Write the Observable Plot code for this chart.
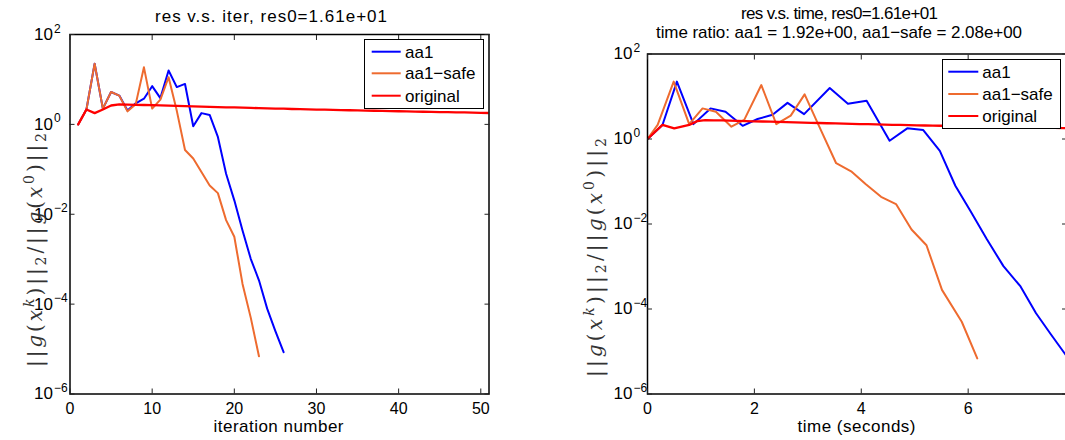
<!DOCTYPE html>
<html><head><meta charset="utf-8">
<script src="https://cdn.jsdelivr.net/npm/d3@7"></script>
<script src="https://cdn.jsdelivr.net/npm/@observablehq/plot@0.6"></script>
<style>
html,body{margin:0;padding:0;overflow:hidden;background:#fff;}
#wrap{position:relative;width:1065px;height:440px;overflow:hidden;}
#wrap > svg{position:absolute;top:0;}
</style></head><body><div id="wrap"></div>
<script>
// ---- data ----
const seriesNames = ["aa1", "aa1\u2212safe", "original"];
const seriesColors = ["#0000ff", "#ee6b2f", "#ff0000"];

const aa1Res = [1.00, 2.14, 22.4, 2.24, 5.25, 4.37, 2.04, 2.95, 3.72, 7.08, 3.85, 15.8, 6.76, 7.94, 0.91, 1.78, 1.62, 0.525, 0.0794, 0.0204, 0.00437, 0.00102, 3.39e-4, 7.94e-5, 2.51e-5, 8.5e-6];
const aa1Time = [0, 0.28, 0.55, 0.86, 1.18, 1.46, 1.78, 2.06, 2.34, 2.62, 2.93, 3.41, 3.75, 4.10, 4.53, 4.86, 5.16, 5.47, 5.76, 6.04, 6.35, 6.66, 6.98, 7.27, 7.55, 7.82];

const safeRes = [1.00, 2.14, 22.4, 2.24, 5.25, 4.37, 1.95, 2.82, 18.6, 2.24, 3.55, 11.2, 2.0, 0.269, 0.174, 0.0871, 0.0437, 0.0295, 0.00741, 0.00316, 2.82e-4, 5.01e-5, 6.9e-6];
const safeTime = [0, 0.19, 0.49, 0.78, 1.03, 1.28, 1.57, 1.81, 2.13, 2.41, 2.68, 2.94, 3.21, 3.53, 3.81, 4.08, 4.37, 4.65, 4.94, 5.22, 5.51, 5.88, 6.17];

const origRes = [1.00, 2.14, 1.78, 2.14, 2.63, 2.78, 2.75, 2.73, 2.70, 2.67, 2.64, 2.61, 2.58, 2.55, 2.52, 2.49, 2.46, 2.43, 2.40, 2.38, 2.35, 2.32, 2.30, 2.28, 2.25, 2.23, 2.20, 2.18, 2.16, 2.14, 2.12, 2.10, 2.08, 2.06, 2.05, 2.03, 2.01, 1.99, 1.98, 1.96, 1.94, 1.93, 1.91, 1.90, 1.88, 1.87, 1.85, 1.84, 1.82, 1.80, 1.79];
const origTime = [0, 0.28, 0.50, 0.78, 0.93, 1.08, 1.24, 1.39, 1.54, 1.69, 1.84, 1.99, 2.15, 2.30, 2.45, 2.60, 2.76, 2.91, 3.06, 3.21, 3.36, 3.52, 3.67, 3.82, 3.97, 4.13, 4.28, 4.43, 4.58, 4.73, 4.89, 5.04, 5.19, 5.34, 5.49, 5.65, 5.80, 5.95, 6.10, 6.25, 6.41, 6.56, 6.71, 6.86, 7.02, 7.17, 7.32, 7.47, 7.62, 7.78, 7.93];

const yTicks = [1e-6, 1e-4, 1e-2, 1, 1e2];
const yTickExp = ["\u22126", "\u22124", "\u22122", "0", "2"];
const iterTicks = [0, 10, 20, 30, 40, 50];
const timeTicks = [0, 2, 4, 6];

const leftTitle = "res v.s. iter, res0=1.61e+01";
const rightTitle1 = "res v.s. time, res0=1.61e+01";
const rightTitle2 = "time ratio: aa1 = 1.92e+00, aa1\u2212safe = 2.08e+00";
const leftXLabel = "iteration number";
const rightXLabel = "time (seconds)";

// ---- build tables ----
function rows(res, time) {
  return res.map((r, i) => ({iter: i + 1, time: time[i], res: r}));
}
const series = [
  {rows: rows(aa1Res, aa1Time), color: seriesColors[0], width: 2},
  {rows: rows(safeRes, safeTime), color: seriesColors[1], width: 2},
  {rows: rows(origRes, origTime), color: seriesColors[2], width: 2.3}
];

const FONT = '"Liberation Sans", Arial, Helvetica, sans-serif';
const FS = 17;
const TFS = 16;
const wrap = document.getElementById("wrap");

function panel({xKey, xDomain, xTicks, left, width, mL, mR, mT, mB, yPad}) {
  const marks = [];
  for (const s of series) {
    marks.push(Plot.line(s.rows, {x: xKey, y: "res", stroke: s.color, strokeWidth: s.width, clip: true}));
  }
  marks.push(Plot.frame({stroke: "black", strokeWidth: 1.5}));
  // inward ticks on all four sides
  marks.push(Plot.axisX({anchor: "bottom", ticks: xTicks, tickSize: -5, tickFormat: () => "", label: null, stroke: "#222"}));
  marks.push(Plot.axisX({anchor: "top", ticks: xTicks, tickSize: -5, tickFormat: () => "", label: null, stroke: "#222"}));
  marks.push(Plot.axisY({anchor: "left", ticks: yTicks, tickSize: -5, tickFormat: () => "", label: null, stroke: "#222"}));
  marks.push(Plot.axisY({anchor: "right", ticks: yTicks, tickSize: -5, tickFormat: () => "", label: null, stroke: "#222"}));
  // tick labels
  marks.push(Plot.axisX({anchor: "bottom", ticks: xTicks, tickSize: 0, tickPadding: 9, label: null, fontSize: TFS, fill: "black"}));
  marks.push(Plot.axisY({anchor: "left", ticks: yTicks, tickSize: 0, tickPadding: yPad, tickFormat: () => "10", label: null, fontSize: TFS + 1, fill: "black"}));
  marks.push(Plot.text(yTicks, {y: d => d, text: (d, i) => yTickExp[i], frameAnchor: "left", dx: -yPad + 1, dy: -2, textAnchor: "start", lineAnchor: "bottom", fontSize: 12, fill: "black"}));
  const svg = Plot.plot({
    width, height: 440,
    marginLeft: mL, marginRight: mR, marginTop: mT, marginBottom: mB,
    x: {domain: xDomain},
    y: {type: "log", domain: [1e-6, 1e2]},
    style: {fontFamily: FONT, fontSize: FS + "px", background: "transparent", overflow: "visible", color: "black"},
    marks
  });
  svg.style.left = left + "px";
  wrap.appendChild(svg);
}

panel({xKey: "iter", xDomain: [0, 51], xTicks: iterTicks, left: 0, width: 540, mL: 69.5, mR: 51.5, mT: 34, mB: 46.5, yPad: 17});
panel({xKey: "time", xDomain: [0, 7.84], xTicks: timeTicks, left: 560, width: 520, mL: 87, mR: 14, mT: 53.5, mB: 46.5, yPad: 15});

// ---- overlay: titles, axis labels, legends ----
const ov = d3.select(wrap).append("svg")
  .attr("width", 1065).attr("height", 440)
  .style("left", "0px").style("pointer-events", "none")
  .attr("font-family", FONT).attr("font-size", FS);

function txt(x, y, s, anchor = "middle", len = null) {
  const t = ov.append("text").attr("x", x).attr("y", y).attr("text-anchor", anchor).attr("fill", "black").text(s);
  if (len) t.attr("textLength", len).attr("lengthAdjust", "spacing");
  return t;
}
txt(271, 21.5, leftTitle, "middle", 232);
txt(839.5, 19, rightTitle1, "middle", 197);
txt(839, 37.5, rightTitle2, "middle", 366);
txt(278.5, 432, leftXLabel, "middle", 130);
txt(856.5, 432, rightXLabel, "middle", 118);

function yLabel(cx, cy, len) {
  const t = ov.append("text")
    .attr("transform", `translate(${cx},${cy}) rotate(-90)`)
    .attr("text-anchor", "middle")
    .attr("font-family", '"DejaVu Serif", "Liberation Serif", serif')
    .attr("font-size", 20).attr("fill", "#333")
    .attr("textLength", len).attr("lengthAdjust", "spacing");
  const parts = [
    ["||", 0, 0], ["g", 1, 0], ["(", 0, 0], ["x", 1, 0], ["k", 1, -1], [")", 0, 0], ["||", 0, 0], ["2", 0, 1],
    ["/", 0, 0], ["||", 0, 0], ["g", 1, 0], ["(", 0, 0], ["x", 1, 0], ["0", 0, -1], [")", 0, 0], ["||", 0, 0], ["2", 0, 1]
  ];
  let cur = 0;
  for (const [s, it, sh] of parts) {
    const target = sh === -1 ? -8 : sh === 1 ? 4 : 0;
    const sp = t.append("tspan").attr("dy", target - cur).text(s);
    cur = target;
    if (it) sp.attr("font-style", "italic");
    if (sh) sp.attr("font-size", 14);
  }
}
yLabel(42, 250, 234);
yLabel(602, 257.5, 239);

function legend(x, y, w, h, lx1, lx2, tx, ys) {
  ov.append("rect").attr("x", x).attr("y", y).attr("width", w).attr("height", h)
    .attr("fill", "white").attr("stroke", "black").attr("stroke-width", 1);
  seriesNames.forEach((n, i) => {
    ov.append("line").attr("x1", lx1).attr("x2", lx2).attr("y1", ys[i]).attr("y2", ys[i])
      .attr("stroke", seriesColors[i]).attr("stroke-width", 2);
    txt(tx, ys[i] + 6, n, "start");
  });
}
legend(364.5, 39.5, 119, 69, 371.7, 400.7, 405, [51.7, 73.3, 95.7]);
legend(942.5, 59.5, 118, 69, 948.3, 978.3, 982.3, [71.7, 94, 116]);
</script></body></html>
